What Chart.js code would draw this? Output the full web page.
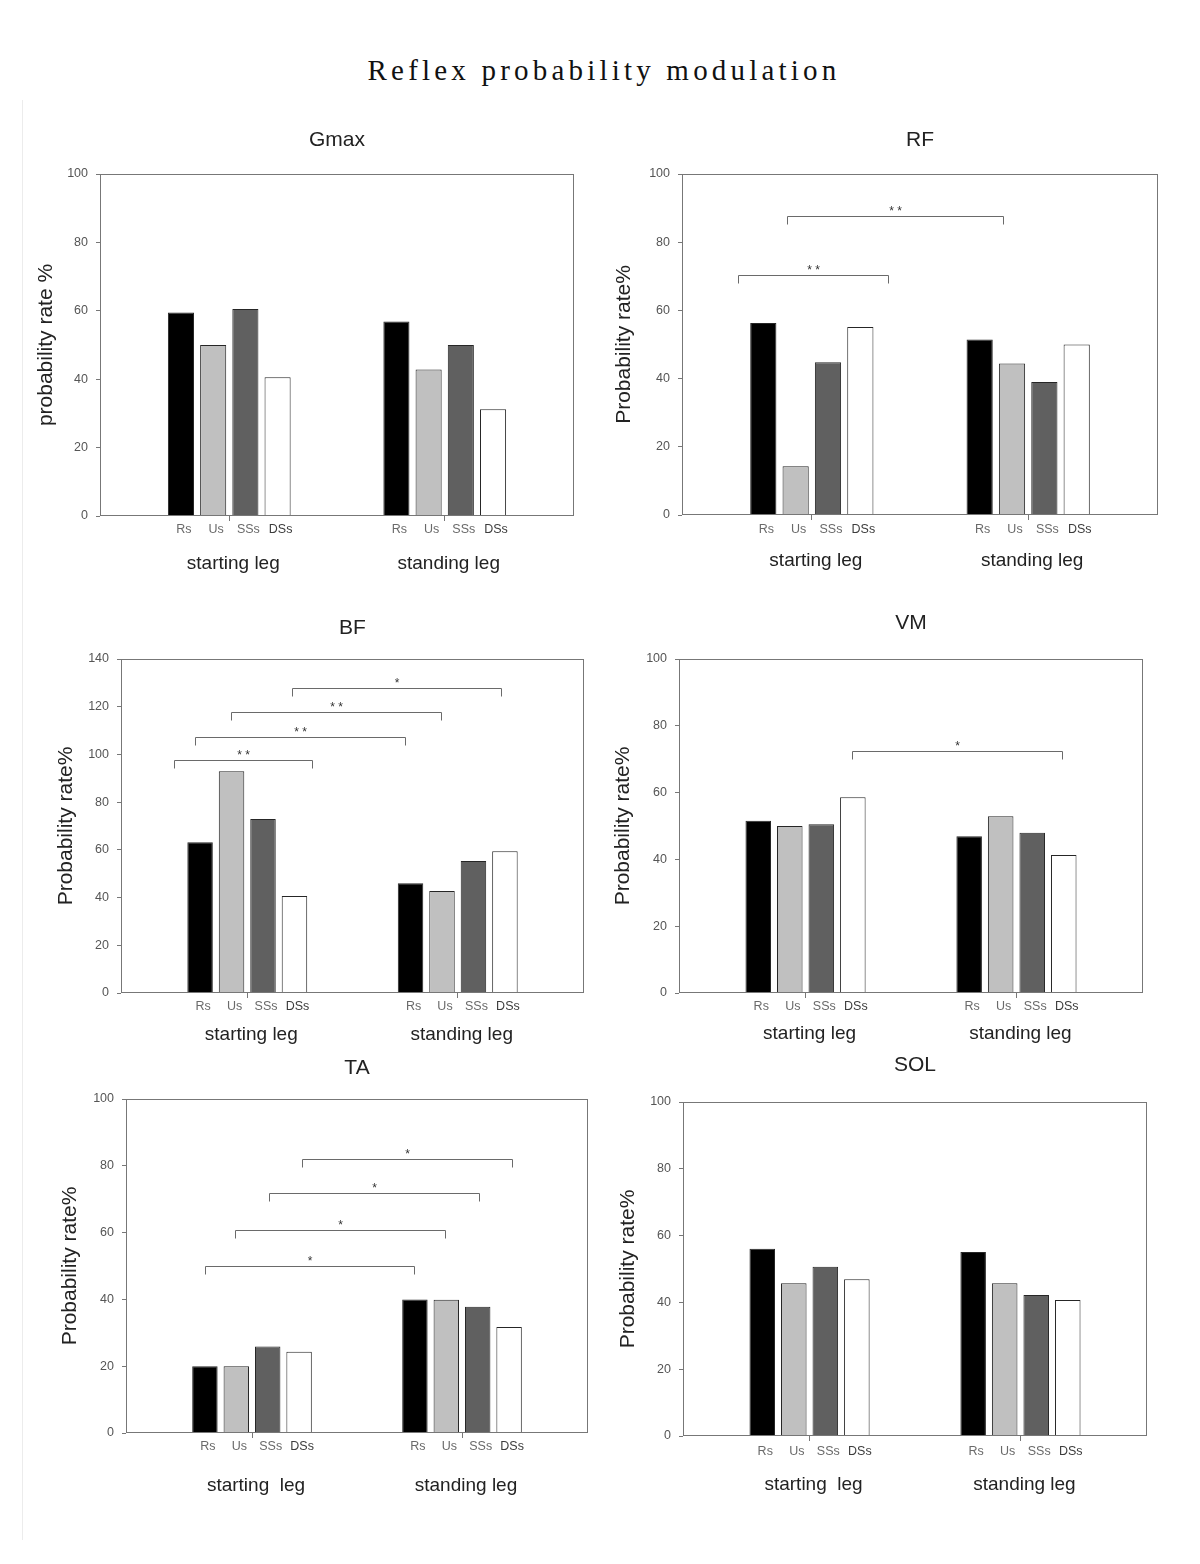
<!DOCTYPE html>
<html>
<head>
<meta charset="utf-8">
<script src="https://cdn.jsdelivr.net/npm/chart.js@4.4.0/dist/chart.umd.min.js"></script>
<style>
body{margin:0;background:#fff;width:1200px;height:1564px;position:relative;overflow:hidden}
#title{position:absolute;left:0;top:56px;width:1200px;padding-left:4px;text-align:center;line-height:29px;
  font-family:'Liberation Serif','Times New Roman',serif;font-size:29px;letter-spacing:4.2px;color:#111}
#edge{position:absolute;left:22px;top:100px;height:1440px;border-left:1px solid #ececec}
canvas{position:absolute}
</style>
</head>
<body>
<div id="title">Reflex probability modulation</div>
<div id="edge"></div>
<script>
// bar order inside each group
const conditions=['Rs','Us','SSs','DSs'];
const condColors=['#000000','#c0c0c0','#606060','#ffffff'];
const condLabelColors=['#6a6a6a','#6a6a6a','#6a6a6a','#3c3c3c'];
const legPos=[1,2];
const legs=['starting leg','standing leg'];
const legsWide=['starting  leg','standing leg'];

// values (probability rate %), order Rs, Us, SSs, DSs
const gmaxStarting=[59.5,50.0,60.5,40.6];
const gmaxStanding=[56.9,42.8,50.0,31.2];
const rfStarting=[56.3,14.3,44.8,55.1];
const rfStanding=[51.5,44.4,39.0,50.0];
const bfStarting=[63.2,92.9,72.9,40.7];
const bfStanding=[46.0,42.8,55.3,59.4];
const vmStarting=[51.6,50.0,50.5,58.6];
const vmStanding=[46.9,52.9,48.0,41.3];
const taStarting=[20.0,20.0,25.9,24.3];
const taStanding=[40.0,39.9,37.8,31.7];
const solStarting=[56.1,45.7,50.7,46.9];
const solStanding=[55.1,45.7,42.2,40.7];

// significance brackets: [x from, x to, level, stars]
const rfSig=[[0.661,1.353,70.4,'* *'],[0.887,1.883,87.6,'* *']];
const bfSig=[[0.651,1.309,97.5,'* *'],[0.752,1.749,107.3,'* *'],[0.924,1.919,117.6,'* *'],[1.212,2.206,127.8,'*']];
const vmSig=[[1.220,2.215,72.6,'*']];
const taSig=[[0.775,1.773,49.95,'*'],[0.921,1.917,60.9,'*'],[1.079,2.081,72.0,'*'],[1.240,2.236,82.05,'*']];

const FONT="Arial, 'Liberation Sans', sans-serif";
const AXIS='#777';

// box = plot area [left, top, right, bottom] on the page
const panels=[
  {title:'Gmax',yTitle:'probability rate %',ymax:100,a:gmaxStarting,b:gmaxStanding,sig:[],legNames:legs,box:[100,174,574,516],tDy:-34,yDx:-54,legDy:48,condDy:14},
  {title:'RF',yTitle:'Probability rate%',ymax:100,a:rfStarting,b:rfStanding,sig:rfSig,legNames:legs,box:[682,174,1158,515],tDy:-34,yDx:-58,legDy:46,condDy:15},
  {title:'BF',yTitle:'Probability rate%',ymax:140,a:bfStarting,b:bfStanding,sig:bfSig,legNames:legs,box:[121,659,584,993],tDy:-31,yDx:-55,legDy:42,condDy:14},
  {title:'VM',yTitle:'Probability rate%',ymax:100,a:vmStarting,b:vmStanding,sig:vmSig,legNames:legs,box:[679,659,1143,993],tDy:-36,yDx:-56,legDy:41,condDy:14},
  {title:'TA',yTitle:'Probability rate%',ymax:100,a:taStarting,b:taStanding,sig:taSig,legNames:legsWide,box:[126,1099,588,1433],tDy:-31,yDx:-56,legDy:53,condDy:14},
  {title:'SOL',yTitle:'Probability rate%',ymax:100,a:solStarting,b:solStanding,sig:[],legNames:legsWide,box:[683,1102,1147,1436],tDy:-37,yDx:-55,legDy:49,condDy:16}
];

const PAD_L=100, PAD_T=70, PAD_R=20, PAD_B=80;

const panelDecor={
  id:'panelDecor',
  afterDraw(chart,args,o){
    const ctx=chart.ctx, a=chart.chartArea, x=chart.scales.x, y=chart.scales.y;
    ctx.save();
    // frame
    ctx.strokeStyle=AXIS; ctx.lineWidth=1;
    ctx.strokeRect(Math.round(a.left)+0.5,Math.round(a.top)+0.5,Math.round(a.right-a.left)-1,Math.round(a.bottom-a.top)-1);
    // condition labels under each bar
    ctx.font='12.5px '+FONT; ctx.textAlign='center'; ctx.textBaseline='middle';
    conditions.forEach((c,i)=>{
      ctx.fillStyle=condLabelColors[i];
      chart.getDatasetMeta(i).data.forEach(el=>ctx.fillText(c,el.x+3,a.bottom+o.condDy));
    });
    // leg labels
    ctx.font='19px '+FONT; ctx.fillStyle='#222';
    o.legNames.forEach((n,j)=>ctx.fillText(n,x.getPixelForValue(legPos[j])+4,a.bottom+o.legDy));
    // panel title
    ctx.font='21px '+FONT; ctx.fillStyle='#222';
    ctx.fillText(o.title,(a.left+a.right)/2,a.top+o.tDy);
    // y title
    ctx.save();
    ctx.translate(a.left+o.yDx,(a.top+a.bottom)/2); ctx.rotate(-Math.PI/2);
    ctx.font='21px '+FONT; ctx.fillStyle='#222';
    ctx.fillText(o.yTitle,0,0);
    ctx.restore();
    // significance brackets
    ctx.strokeStyle='#6a6a6a'; ctx.lineWidth=1;
    ctx.font='12px '+FONT; ctx.fillStyle='#333'; ctx.textBaseline='alphabetic';
    o.sig.forEach(s=>{
      const x1=Math.round(x.getPixelForValue(s[0]))+0.5, x2=Math.round(x.getPixelForValue(s[1]))+0.5;
      const py=Math.round(y.getPixelForValue(s[2]))+0.5;
      ctx.beginPath(); ctx.moveTo(x1,py+8); ctx.lineTo(x1,py); ctx.lineTo(x2,py); ctx.lineTo(x2,py+8); ctx.stroke();
      ctx.fillText(s[3],(x1+x2)/2,py-2);
    });
    ctx.restore();
  }
};

panels.forEach(p=>{
  const [l,t,r,b]=p.box;
  const cv=document.createElement('canvas');
  cv.width=r-l+PAD_L+PAD_R; cv.height=b-t+PAD_T+PAD_B;
  cv.style.left=(l-PAD_L)+'px'; cv.style.top=(t-PAD_T)+'px';
  cv.style.width=cv.width+'px'; cv.style.height=cv.height+'px';
  document.body.appendChild(cv);

  const datasets=conditions.map((c,i)=>({
    label:c,
    data:legPos.map((xv,j)=>({x:xv,y:(j===0?p.a:p.b)[i]})),
    backgroundColor:condColors[i],
    borderColor:'#262626',
    borderWidth:1,
    categoryPercentage:0.598,
    barPercentage:0.81
  }));

  new Chart(cv,{
    type:'bar',
    data:{datasets},
    options:{
      responsive:false,animation:false,devicePixelRatio:1,
      layout:{padding:{left:0,top:PAD_T,right:PAD_R,bottom:0}},
      plugins:{legend:{display:false},tooltip:{enabled:false},
        panelDecor:{title:p.title,yTitle:p.yTitle,sig:p.sig,legNames:p.legNames,tDy:p.tDy,yDx:p.yDx,legDy:p.legDy,condDy:p.condDy}},
      scales:{
        x:{type:'linear',min:0.4,max:2.6,offset:false,bounds:'data',
          afterBuildTicks:s=>{s.ticks=legPos.map(v=>({value:v}));},
          ticks:{display:false},
          grid:{drawOnChartArea:false,offset:false,color:AXIS,tickLength:5},
          border:{display:false},
          afterFit:s=>{s.height=PAD_B;}},
        y:{min:0,max:p.ymax,
          ticks:{stepSize:20,color:'#555',padding:8,font:{size:12.5,family:FONT}},
          grid:{drawOnChartArea:false,color:AXIS,tickLength:4},
          border:{display:false},
          afterFit:s=>{s.width=PAD_L;}}
      }
    },
    plugins:[panelDecor]
  });
});
</script>
</body>
</html>
